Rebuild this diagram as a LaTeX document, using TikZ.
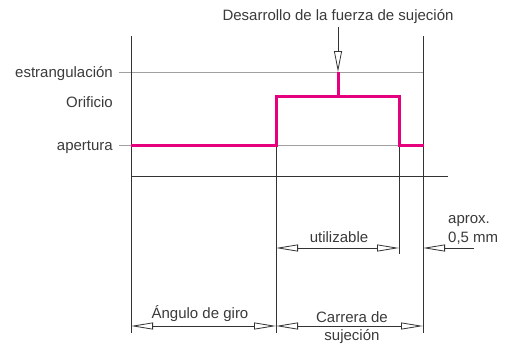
\documentclass[tikz,border=0pt]{standalone}
\usepackage{fontspec}
\setmainfont{Liberation Sans}
\usetikzlibrary{arrows.meta}
\definecolor{txt}{HTML}{3A3A3A}
\definecolor{mag}{HTML}{E6007E}
\definecolor{grid}{HTML}{A0A0A0}
\begin{document}
\begin{tikzpicture}[x=1pt,y=-1pt,
  lbl/.style={inner sep=0pt,text=txt,font=\fontsize{15}{17}\selectfont},
  axis/.style={draw=black!80,line width=0.9pt},
  guide/.style={draw=grid,line width=0.8pt},
  curve/.style={draw=mag,line width=3pt,line join=miter},
  dim/.style={draw=black!80,line width=0.8pt,{Triangle[open,length=22pt,width=7pt]}-{Triangle[open,length=22pt,width=7pt]}},
  dimone/.style={draw=black!80,line width=0.8pt,-{Triangle[open,length=22pt,width=7pt]}},
  force/.style={draw=black!80,line width=0.8pt,-{Triangle[open,length=21pt,width=8pt]}}]
\useasboundingbox (0,0) rectangle (514,343);
% coordinates
\coordinate (L0) at (131,36);  \coordinate (L1) at (131,333);
\coordinate (R0) at (423,36);  \coordinate (R1) at (423,333);
\coordinate (A0) at (131,176); \coordinate (A1) at (448,176);
\coordinate (M0) at (276,145); \coordinate (M1) at (276,333);
\coordinate (U0) at (399,145); \coordinate (U1) at (399,254);
\coordinate (E0) at (119,72);  \coordinate (E1) at (423,72);
\coordinate (P0) at (119,145); \coordinate (P1) at (423,145);
\coordinate (F0) at (338,27);  \coordinate (F1) at (338,72);
\coordinate (D0) at (276,248); \coordinate (D1) at (399,248);
\coordinate (X0) at (474,248); \coordinate (X1) at (423,248);
\coordinate (B0) at (131,326); \coordinate (B1) at (276,326); \coordinate (B2) at (423,326);
% guides
\draw[guide] (E0) -- (E1);
\draw[guide] (P0) -- (P1);
% axes
\draw[axis] (L0) -- (L1);
\draw[axis] (R0) -- (R1);
\draw[axis] (A0) -- (A1);
\draw[axis] (M0) -- (M1);
\draw[axis] (U0) -- (U1);
% curve
\draw[curve] (131,145) -- (276,145) -- (276,96) -- (399,96) -- (399,145) -- (424,145);
\draw[curve,line cap=butt] (338,97) -- (338,72);
% force arrow
\draw[force] (F0) -- (F1);
% dimensions
\draw[dim] (D0) -- (D1);
\draw[dimone] (X0) -- (X1);
\draw[dim] (B0) -- (B1);
\draw[dim] (B1) -- (B2);
% labels
\node[lbl,anchor=base] (tforce) at (338,20) {Desarrollo de la fuerza de sujeción};
\node[lbl,anchor=base east] (testr) at (113,77) {estrangulación};
\node[lbl,anchor=base east] (torif) at (113,107) {Orificio};
\node[lbl,anchor=base east] (taper) at (113,150) {apertura};
\node[lbl,anchor=base] (tutil) at (339,242) {utilizable};
\node[lbl,anchor=base west] (taprox) at (448,223) {aprox.};
\node[lbl,anchor=base west] (tmm) at (448,242) {0,5 mm};
\node[lbl,anchor=base] (tgiro) at (200,318) {Ángulo de giro};
\node[lbl,anchor=base] (tcarr) at (352,322) {Carrera de};
\node[lbl,anchor=base] (tsuj) at (352,340) {sujeción};
\end{tikzpicture}
\end{document}
